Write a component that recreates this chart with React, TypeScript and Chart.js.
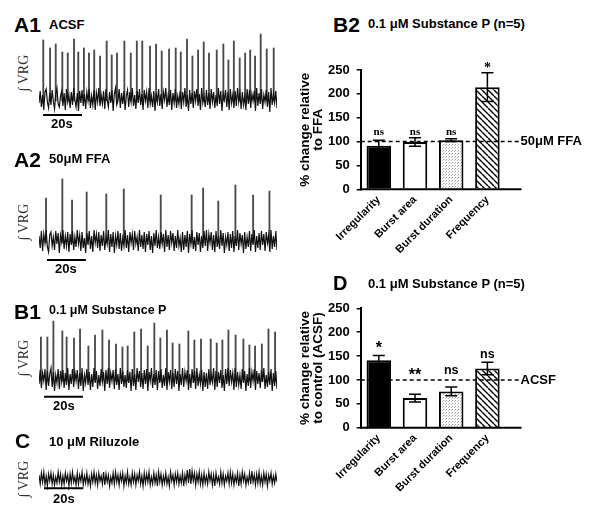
import React, { useEffect, useRef } from 'react';
import { Chart, registerables } from 'chart.js';
Chart.register(...registerables);

const SANS = '"Liberation Sans", Arial, sans-serif';
const SERIF = '"Liberation Serif", "Times New Roman", serif';

// ---------- bar chart data ----------
const barCategories = ['Irregularity', 'Burst area', 'Burst duration', 'Frequency'];
const yTickValues = [0, 50, 100, 150, 200, 250];
const referenceLevel = 100;

const b2Values = [91, 99, 103, 214];
const b2Errors = [12, 9, 3, 30];
const b2Sig = ['ns', 'ns', 'ns', '*'];
const b2SigAt = [113, 113, 113, 246];

const dValues = [141, 62, 76, 124];
const dErrors = [10, 8, 9, 13];
const dSig = ['*', '**', 'ns', 'ns'];
const dSigAt = [156, 100, 112, 146];

// ---------- integrated VRG traces ----------
// baseline activity: one sample every 0.615 s (amplitude relative to baseline)
const sampleSeconds = 0.615;
const scaleBarSeconds = 20;

const a1Noise = [
  -5, 7, -9, 3, -12, 6, 9, -4, -10, 5, -7, 8, -3, -11, 4, 10, -6, -9, 2, 7,
  -8, 5, -12, 9, -4, 3, -10, 6, -7, 10, -2, -9, 5, -13, 7, -5, 8, -8, 4, -11,
  6, -3, 9, -10, 2, -7, 8, -12, 5, -4, 10, -8, 3, -6, 7, -11, 9, -2, -9, 6,
  -5, 8, -13, 4, 10, -7, -3, 9, -10, 5, -6, 7, -12, 2, 8, -9, 6, -4, 10, -8,
  3, -11, 7, -5, 9, -7, 4, -12, 8, -3, 6, -10, 10, -6, 2, -9, 7, -13, 5, -4,
  9, -8, 4, -11, 6, -2, 10, -9, 3, -7, 8, -12, 5, -5, 9, -10, 2, -6, 7, -11,
  6, -4, 10, -9, 3, -13, 8, -6, 5, -10, 7, -3, 9, -8, 4, -12, 10, -5, 2, -9,
  8, -7, 5, -11, 9, -4, 6, -10, 3, -8, 10, -6, 7, -13, 4, -2, 8, -9, 6, -12,
  9, -5, 3, -10, 7, -8, 10, -4, 5, -11, 6, -7, 2, -12, 9, -6, 8, -10, 4, -3,
  7, -13, 10, -8, 5, -6, 9, -11, 3, -4, 8, -9, 6, -14, 10, -7, 4, -5, 7, -10,
];
const a1BurstTimes = [
  2.2, 5.7, 8.6, 12.0, 14.8, 18.0, 20.2, 23.1, 25.7, 28.4,
  31.4, 34.8, 37.4, 40.1, 43.9, 47.2, 50.3, 53.1, 57.1, 60.2,
  63.1, 66.9, 70.3, 72.9, 76.1, 78.9, 81.8, 84.7, 87.4, 91.4,
  94.8, 97.4, 100.2, 103.2, 106.0, 108.6, 111.1, 114.0, 117.1, 120.7,
];
const a1BurstPeaks = [
  58, 50, 54, 46, 45, 59, 46, 50, 45, 48,
  42, 57, 43, 45, 57, 45, 57, 57, 52, 54,
  47, 49, 50, 46, 59, 42, 48, 56, 45, 48,
  54, 38, 57, 40, 45, 48, 42, 64, 49, 50,
];

const a2Noise = [
  4, -8, 9, -11, 6, -3, 10, -7, -12, 5, 8, -6, 3, -10, 9, -4, 7, -13, 5, -2,
  10, -9, 4, -6, 8, -12, 6, -5, 9, -10, 3, -7, 10, -4, 5, -11, 8, -8, 2, -13,
  7, -5, 9, -9, 4, -12, 10, -3, 6, -8, 8, -11, 5, -6, 9, -10, 3, -4, 10, -12,
  6, -7, 8, -13, 4, -5, 9, -9, 7, -11, 2, -6, 10, -8, 5, -12, 8, -3, 6, -10,
  9, -4, 3, -11, 10, -7, 5, -9, 8, -12, 6, -5, 9, -10, 4, -13, 7, -6, 10, -8,
  3, -9, 8, -4, 6, -12, 10, -7, 5, -10, 9, -3, 7, -11, 4, -8, 10, -6, 2, -12,
  8, -10, 5, -7, 9, -13, 6, -4, 10, -9, 3, -11, 8, -5, 7, -12, 4, -8, 9, -6,
  10, -11, 6, -3, 8, -10, 5, -12, 9, -7, 4, -9, 10, -6, 7, -13, 3, -5, 8, -11,
  6, -8, 9, -12, 4, -6, 10, -10, 7, -4, 5, -13, 8, -9, 3, -7, 9, -11, 6, -5,
  10, -12, 4, -8, 7, -10, 9, -5, 6, -11, 8, -3, 5, -12, 10, -9, 4, -7, 9, -10,
];
const a2BurstTimes = [3.6, 12.0, 17.0, 24.5, 34.6, 43.6, 62.6, 78.5, 84.4, 92.2, 101.0, 110.1, 118.5];
const a2BurstPeaks = [42, 61, 40, 48, 46, 51, 45, 45, 52, 39, 55, 45, 49];

const b1Noise = [
  -6, 8, -10, 5, -3, 9, -12, 7, -8, 4, 10, -9, 6, -13, 3, -5, 9, -11, 7, -4,
  8, -10, 5, -7, 10, -12, 4, -6, 9, -9, 6, -3, 8, -11, 5, -8, 10, -13, 3, -5,
  9, -7, 6, -12, 4, -9, 10, -5, 7, -11, 3, -8, 9, -4, 6, -13, 8, -6, 10, -10,
  5, -3, 8, -11, 9, -7, 4, -12, 10, -6, 7, -9, 3, -10, 8, -5, 6, -13, 9, -8,
  4, -12, 10, -4, 7, -9, 5, -11, 8, -6, 9, -13, 6, -3, 10, -10, 4, -7, 8, -12,
  7, -5, 9, -10, 3, -8, 10, -12, 6, -4, 8, -11, 5, -9, 9, -6, 7, -13, 4, -7,
  10, -9, 6, -3, 8, -12, 4, -10, 9, -5, 7, -11, 10, -8, 3, -6, 8, -13, 6, -9,
  5, -11, 9, -7, 4, -4, 10, -12, 7, -9, 6, -5, 8, -10, 3, -13, 9, -6, 10, -8,
  8, -4, 5, -12, 10, -9, 6, -7, 3, -11, 9, -5, 7, -13, 4, -8, 10, -10, 6, -3,
  9, -12, 7, -6, 5, -10, 8, -4, 10, -11, 3, -9, 6, -7, 9, -13, 5, -8, 7, -11,
];
const b1BurstTimes = [
  1.0, 4.3, 7.4, 12.0, 14.2, 18.0, 21.1, 25.4, 28.8, 32.6,
  36.0, 39.6, 42.9, 45.6, 49.0, 52.5, 55.9, 59.3, 62.4, 65.8,
  68.7, 72.2, 76.8, 79.9, 83.3, 88.3, 91.4, 94.3, 97.4, 101.1,
  105.1, 108.2, 111.1, 114.6, 118.0, 121.4,
];
const b1BurstPeaks = [
  41, 41, 57, 47, 41, 40, 49, 32, 43, 48,
  38, 34, 31, 32, 46, 49, 32, 55, 40, 48,
  35, 34, 47, 38, 39, 39, 35, 38, 48, 43,
  39, 33, 32, 34, 49, 46,
];

const cNoise = [
  4, -5, 6, -3, 7, -6, 3, -7, 5, -2, 6, -5, 4, -6, 2, -4, 7, -3, 5, -6,
  3, -5, 6, -2, 4, -7, 5, -4, 7, -3, 2, -6, 6, -5, 4, -2, 7, -6, 3, -4,
  6, -5, 2, -7, 5, -3, 7, -4, 4, -6, 6, -2, 3, -5, 7, -6, 5, -3, 4, -7,
  2, -4, 6, -5, 7, -3, 4, -6, 5, -2, 6, -7, 3, -4, 7, -5, 2, -6, 6, -3,
  5, -6, 4, -2, 7, -5, 3, -7, 6, -4, 5, -3, 7, -6, 2, -5, 6, -4, 4, -7,
  7, -3, 5, -6, 3, -4, 6, -5, 2, -7, 7, -2, 4, -6, 5, -3, 6, -5, 3, -4,
  6, -7, 4, -3, 9, -4, 10, -5, 8, -2, 6, -6, 5, -3, 7, -5, 4, -6, 6, -4,
  3, -5, 7, -2, 5, -6, 4, -7, 6, -3, 2, -5, 7, -4, 5, -6, 3, -2, 6, -5,
  7, -4, 5, -6, 3, -3, 6, -7, 4, -5, 7, -2, 5, -6, 2, -4, 6, -5, 8, -3,
  4, -6, 5, -4, 7, -5, 3, -6, 6, -3, 5, -7, 4, -2, 6, -5, 3, -4, 5, -3,
];
const cBurstTimes: number[] = [];
const cBurstPeaks: number[] = [];

Chart.defaults.font.family = SANS;
Chart.defaults.color = '#000';

function makeDots(ctx: CanvasRenderingContext2D) {
  const c = document.createElement('canvas');
  c.width = 3; c.height = 3;
  const g = c.getContext('2d')!;
  g.fillStyle = '#fff'; g.fillRect(0, 0, 3, 3);
  g.fillStyle = '#9a9a9a'; g.fillRect(0, 0, 1, 1);
  g.fillStyle = '#c0c0c0'; g.fillRect(2, 1, 1, 1);
  return ctx.createPattern(c, 'repeat');
}

function makeHatch(ctx: CanvasRenderingContext2D) {
  const s = 6;
  const c = document.createElement('canvas');
  c.width = s; c.height = s;
  const g = c.getContext('2d')!;
  g.fillStyle = '#fff'; g.fillRect(0, 0, s, s);
  g.strokeStyle = '#000'; g.lineWidth = 1.4;
  for (const x0 of [-s, 0, s]) {
    g.beginPath(); g.moveTo(x0, 0); g.lineTo(x0 + s, s); g.stroke();
  }
  return ctx.createPattern(c, 'repeat');
}

type BarProps = {
  left: number; top: number; width: number; height: number;
  padTop: number; padRight: number; axisWidth: number; labelHeight: number;
  values: number[]; errors: number[]; sig: string[]; sigAt: number[];
  sigSerif: boolean; titleLines: string[]; refLabel: string;
};

function BarPanel(p: BarProps) {
  const ref = useRef<HTMLCanvasElement>(null);
  useEffect(() => {
    const canvas = ref.current!;
    const ctx = canvas.getContext('2d')!;
    const fills = ['#000', '#fff', makeDots(ctx), makeHatch(ctx)];
    const extras = {
      id: 'extras',
      afterDatasetsDraw(chart: any) {
        const c = chart.ctx as CanvasRenderingContext2D;
        const ys = chart.scales.y;
        const area = chart.chartArea;
        const meta = chart.getDatasetMeta(0);
        c.save();
        c.strokeStyle = '#000';
        c.lineWidth = 2;
        c.beginPath(); c.moveTo(area.left - 1, area.bottom); c.lineTo(area.right + 16, area.bottom); c.stroke();
        c.lineWidth = 1.5;
        meta.data.forEach((bar: any, i: number) => {
          const x = bar.x;
          const t = ys.getPixelForValue(p.values[i] + p.errors[i]);
          const b = ys.getPixelForValue(p.values[i] - p.errors[i]);
          c.beginPath();
          c.moveTo(x, t); c.lineTo(x, b);
          c.moveTo(x - 6, t); c.lineTo(x + 6, t);
          c.moveTo(x - 6, b); c.lineTo(x + 6, b);
          c.stroke();
        });
        const ry = ys.getPixelForValue(referenceLevel);
        c.setLineDash([4, 3]);
        c.lineWidth = 1.5;
        c.beginPath(); c.moveTo(area.left, ry); c.lineTo(area.right + 15, ry); c.stroke();
        c.setLineDash([]);
        c.fillStyle = '#000';
        c.font = `bold 13px ${SANS}`;
        c.textAlign = 'left'; c.textBaseline = 'middle';
        c.fillText(p.refLabel, area.right + 15, ry);
        c.textAlign = 'center'; c.textBaseline = 'alphabetic';
        meta.data.forEach((bar: any, i: number) => {
          const s = p.sig[i];
          const star = s.indexOf('*') >= 0;
          const fam = p.sigSerif ? SERIF : SANS;
          c.font = star ? `bold ${p.sigSerif ? 14 : 16}px ${fam}` : `bold ${p.sigSerif ? 11 : 12.5}px ${fam}`;
          c.fillText(s, bar.x, ys.getPixelForValue(p.sigAt[i]));
        });
        c.restore();
      },
    };
    const chart = new Chart(canvas, {
      type: 'bar',
      data: {
        labels: barCategories,
        datasets: [{
          data: p.values,
          backgroundColor: fills as any,
          borderColor: '#000',
          borderWidth: 2,
          barPercentage: 0.677,
          categoryPercentage: 1,
        }],
      },
      options: {
        responsive: false,
        animation: false,
        devicePixelRatio: 1,
        layout: { padding: { top: p.padTop, right: p.padRight, left: 0, bottom: 0 } },
        plugins: { legend: { display: false }, tooltip: { enabled: false } },
        scales: {
          x: {
            type: 'category',
            offset: true,
            grid: { display: false, drawTicks: false },
            border: { display: false },
            ticks: {
              autoSkip: false, minRotation: 45, maxRotation: 45, padding: 4,
              color: '#000', font: { family: SANS, size: 11, weight: 'bold' },
            },
            afterFit: (s: any) => { s.height = p.labelHeight; },
          },
          y: {
            min: 0, max: 250,
            afterBuildTicks: (s: any) => { s.ticks = yTickValues.map((v) => ({ value: v })); },
            ticks: { padding: 7, color: '#000', font: { family: SANS, size: 13, weight: 'bold' } },
            grid: { display: true, drawOnChartArea: false, drawTicks: true, tickLength: 4, color: '#000', lineWidth: 1.5 },
            border: { display: true, color: '#000', width: 2 },
            title: {
              display: true, text: p.titleLines, color: '#000',
              font: { family: SANS, size: 13.5, weight: 'bold', lineHeight: 0.95 },
              padding: { top: 9, bottom: 0 },
            },
            afterFit: (s: any) => { s.width = p.axisWidth; },
          },
        },
      } as any,
      plugins: [extras],
    });
    return () => chart.destroy();
  }, []);
  return (
    <canvas ref={ref} width={p.width} height={p.height}
      style={{ position: 'absolute', left: p.left, top: p.top, width: p.width, height: p.height }} />
  );
}

type TraceProps = {
  noise: number[]; burstTimes: number[]; burstPeaks: number[];
  left: number; top: number; width: number; height: number;
  yMin: number; yMax: number; barStart: number; barLevel: number;
};

function Trace(p: TraceProps) {
  const ref = useRef<HTMLCanvasElement>(null);
  useEffect(() => {
    const noisePts = p.noise.map((v, i) => ({ x: i * sampleSeconds, y: v }));
    const burstPts = p.burstTimes.map((t, i) => ({ x: t, y: [-3, p.burstPeaks[i]] }));
    const scaleBar = {
      id: 'scaleBar',
      afterDatasetsDraw(chart: any) {
        const xs = chart.scales.x, ys = chart.scales.y;
        const c = chart.ctx as CanvasRenderingContext2D;
        c.save();
        c.strokeStyle = '#000'; c.lineWidth = 2;
        const y = ys.getPixelForValue(p.barLevel);
        c.beginPath();
        c.moveTo(xs.getPixelForValue(p.barStart), y);
        c.lineTo(xs.getPixelForValue(p.barStart + scaleBarSeconds), y);
        c.stroke();
        c.restore();
      },
    };
    const chart = new Chart(ref.current!, {
      type: 'line',
      data: {
        datasets: [
          { type: 'line', data: noisePts, borderColor: '#111', borderWidth: 1.2, pointRadius: 0, tension: 0, fill: false, order: 1 } as any,
          { type: 'bar', data: burstPts, backgroundColor: '#4a4a4a', borderWidth: 0, barThickness: 1.2, order: 2 } as any,
        ],
      },
      options: {
        responsive: false, animation: false, devicePixelRatio: 1,
        layout: { padding: 0 },
        plugins: { legend: { display: false }, tooltip: { enabled: false } },
        scales: {
          x: { type: 'linear', display: false, min: 0, max: (p.noise.length - 1) * sampleSeconds, offset: false },
          y: { display: false, min: p.yMin, max: p.yMax },
        },
      } as any,
      plugins: [scaleBar],
    });
    return () => chart.destroy();
  }, []);
  return (
    <canvas ref={ref} width={p.width} height={p.height}
      style={{ position: 'absolute', left: p.left, top: p.top, width: p.width, height: p.height }} />
  );
}

function Txt({ x, base, size, bold = true, serif = false, children, color = '#000' }:
  { x: number; base: number; size: number; bold?: boolean; serif?: boolean; children: any; color?: string }) {
  const k = serif ? 0.8375 : 0.8465;
  return (
    <div style={{
      position: 'absolute', left: x, top: base - k * size, fontSize: size, lineHeight: 1,
      fontFamily: serif ? SERIF : SANS, fontWeight: bold ? 'bold' : 'normal', color, whiteSpace: 'nowrap',
    }}>{children}</div>
  );
}

function VRG({ cx, cy }: { cx: number; cy: number }) {
  return (
    <div style={{
      position: 'absolute', left: cx, top: cy, transform: 'translate(-50%, -50%) rotate(-90deg)',
      fontFamily: SERIF, fontSize: 14, lineHeight: 1, color: '#333', whiteSpace: 'nowrap',
    }}>∫ VRG</div>
  );
}

export default function App() {
  return (
    <div style={{ position: 'absolute', left: 0, top: 0, width: 600, height: 514, background: '#fff', overflow: 'hidden' }}>
      {/* A1 */}
      <Txt x={14} base={32} size={21}>A1</Txt>
      <Txt x={49} base={29} size={13}>ACSF</Txt>
      <VRG cx={24} cy={73} />
      <Trace noise={a1Noise} burstTimes={a1BurstTimes} burstPeaks={a1BurstPeaks}
        left={39} top={28} width={238} height={90} yMin={-20} yMax={70} barStart={2.1} barLevel={-17} />
      <Txt x={51} base={128} size={13}>20s</Txt>

      {/* A2 */}
      <Txt x={14} base={167} size={21}>A2</Txt>
      <Txt x={49} base={163.5} size={13}>50μM FFA</Txt>
      <VRG cx={24} cy={222} />
      <Trace noise={a2Noise} burstTimes={a2BurstTimes} burstPeaks={a2BurstPeaks}
        left={39} top={172} width={238} height={90} yMin={-22} yMax={68} barStart={4.1} barLevel={-20} />
      <Txt x={55} base={273} size={13}>20s</Txt>

      {/* B1 */}
      <Txt x={14} base={318.5} size={21}>B1</Txt>
      <Txt x={49} base={315} size={12.5}>0.1 μM Substance P</Txt>
      <VRG cx={24} cy={358} />
      <Trace noise={b1Noise} burstTimes={b1BurstTimes} burstPeaks={b1BurstPeaks}
        left={39} top={316} width={238} height={84} yMin={-22} yMax={62} barStart={2.6} barLevel={-18.7} />
      <Txt x={53} base={410.5} size={13}>20s</Txt>

      {/* C */}
      <Txt x={15} base={448} size={21}>C</Txt>
      <Txt x={49} base={446.5} size={13}>10 μM Riluzole</Txt>
      <VRG cx={24} cy={479} />
      <Trace noise={cNoise} burstTimes={cBurstTimes} burstPeaks={cBurstPeaks}
        left={39} top={462} width={238} height={30} yMin={-13} yMax={17} barStart={2.6} barLevel={-9.3} />
      <Txt x={53} base={503} size={13}>20s</Txt>

      {/* B2 */}
      <Txt x={333} base={31.7} size={21}>B2</Txt>
      <Txt x={368} base={28.3} size={13}>0.1 μM Substance P (n=5)</Txt>
      <BarPanel left={290} top={0} width={310} height={260} padTop={70} padRight={94.5} axisWidth={70.7} labelHeight={70.7}
        values={b2Values} errors={b2Errors} sig={b2Sig} sigAt={b2SigAt} sigSerif={true}
        titleLines={['% change relative', 'to FFA']} refLabel="50μM FFA" />

      {/* D */}
      <Txt x={333} base={290} size={20}>D</Txt>
      <Txt x={368} base={288} size={13}>0.1 μM Substance P (n=5)</Txt>
      <BarPanel left={290} top={250} width={310} height={264} padTop={58.3} padRight={94.5} axisWidth={70.7} labelHeight={86.3}
        values={dValues} errors={dErrors} sig={dSig} sigAt={dSigAt} sigSerif={false}
        titleLines={['% change relative', 'to control (ACSF)']} refLabel="ACSF" />
    </div>
  );
}
